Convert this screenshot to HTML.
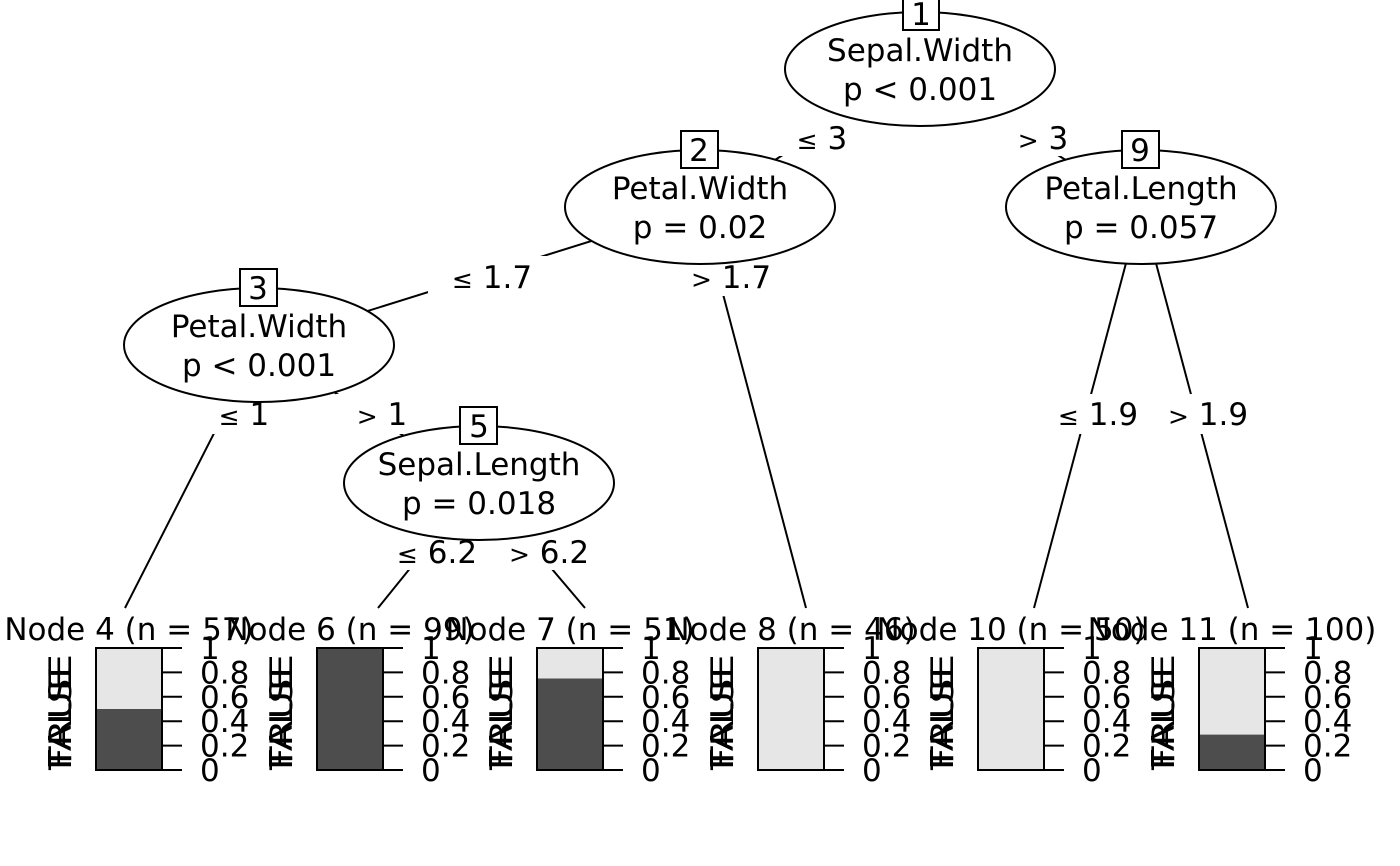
<!DOCTYPE html>
<html><head><meta charset="utf-8"><style>
html,body{margin:0;padding:0;background:#fff;}
svg{display:block;font-family:"DejaVu Sans","Liberation Sans",sans-serif;}
</style></head><body>
<svg width="1400" height="866" viewBox="0 0 1400 866" xmlns="http://www.w3.org/2000/svg">
<rect width="1400" height="866" fill="#fff"/>
<g stroke="#000" stroke-width="2" fill="none">
<line x1="920" y1="69" x2="700" y2="207"/>
<line x1="920" y1="69" x2="1141" y2="207"/>
<line x1="700" y1="207" x2="259" y2="345"/>
<line x1="700" y1="207" x2="806" y2="608"/>
<line x1="1141" y1="207" x2="1034" y2="608"/>
<line x1="1141" y1="207" x2="1248" y2="608"/>
<line x1="259" y1="345" x2="125" y2="608"/>
<line x1="259" y1="345" x2="479" y2="483"/>
<line x1="479" y1="483" x2="378" y2="608"/>
<line x1="479" y1="483" x2="585" y2="608"/>
</g>
<g font-size="31" text-anchor="middle" fill="#000">
<g fill="#fff">
<rect x="760" y="116" width="124" height="40"/>
<rect x="984" y="116" width="110" height="40"/>
<rect x="428" y="256" width="128" height="40"/>
<rect x="666" y="256" width="128" height="40"/>
<rect x="196" y="394" width="96" height="40"/>
<rect x="336" y="394" width="94" height="40"/>
<rect x="1054" y="394" width="92" height="40"/>
<rect x="1164" y="394" width="92" height="40"/>
<rect x="392" y="532" width="102" height="38"/>
<rect x="502" y="532" width="94" height="38"/>
</g>
<text x="822" y="149"><tspan font-size="25">≤</tspan> 3</text>
<text x="1043" y="149"><tspan font-size="25">&gt;</tspan> 3</text>
<text x="492" y="288"><tspan font-size="25">≤</tspan> 1.7</text>
<text x="731" y="288"><tspan font-size="25">&gt;</tspan> 1.7</text>
<text x="244" y="425"><tspan font-size="25">≤</tspan> 1</text>
<text x="382" y="425"><tspan font-size="25">&gt;</tspan> 1</text>
<text x="1098" y="425"><tspan font-size="25">≤</tspan> 1.9</text>
<text x="1208" y="425"><tspan font-size="25">&gt;</tspan> 1.9</text>
<text x="437" y="563"><tspan font-size="25">≤</tspan> 6.2</text>
<text x="549" y="563"><tspan font-size="25">&gt;</tspan> 6.2</text>

<g stroke="#000" stroke-width="2" fill="#fff">
<ellipse cx="920" cy="69" rx="135" ry="57"/>
<ellipse cx="700" cy="207" rx="135" ry="57"/>
<ellipse cx="1141" cy="207" rx="135" ry="57"/>
<ellipse cx="259" cy="345" rx="135" ry="57"/>
<ellipse cx="479" cy="483" rx="135" ry="57"/>
<rect x="903" y="-6" width="36" height="36"/>
<rect x="681" y="131" width="37" height="37"/>
<rect x="1122" y="131" width="37" height="37"/>
<rect x="240" y="269" width="37" height="37"/>
<rect x="460" y="407" width="37" height="37"/>
</g>
<text x="921" y="25">1</text>
<text x="699" y="161">2</text>
<text x="1140" y="161">9</text>
<text x="258" y="299">3</text>
<text x="479" y="437">5</text>
<text x="920" y="61">Sepal.Width</text><text x="920" y="100">p &lt; 0.001</text>
<text x="700" y="199">Petal.Width</text><text x="700" y="238">p = 0.02</text>
<text x="1141" y="199">Petal.Length</text><text x="1141" y="238">p = 0.057</text>
<text x="259" y="337">Petal.Width</text><text x="259" y="376">p &lt; 0.001</text>
<text x="479" y="475">Sepal.Length</text><text x="479" y="514">p = 0.018</text>
</g>
<g font-size="31" fill="#000" id="panels"></g>
<script>
var ns="http://www.w3.org/2000/svg",g=document.getElementById("panels");
var P=[[96,"Node 4 (n = 57)",0.5],[317,"Node 6 (n = 99)",1],[537,"Node 7 (n = 51)",0.75],[758,"Node 8 (n = 46)",0],[978,"Node 10 (n = 50)",0],[1199,"Node 11 (n = 100)",0.29]];
function el(t,a,txt){var e=document.createElementNS(ns,t);for(var k in a)e.setAttribute(k,a[k]);if(txt!=null)e.textContent=txt;g.appendChild(e);return e;}
P.forEach(function(p){var x=p[0],top=648,bot=770,h=bot-top,c=x+33;
el("text",{x:c,y:640,"text-anchor":"middle"},p[1]);
el("rect",{x:x,y:top,width:66,height:h,fill:"#e6e6e6"});
if(p[2]>0)el("rect",{x:x,y:bot-h*p[2],width:66,height:h*p[2],fill:"#4d4d4d"});
el("rect",{x:x,y:top,width:66,height:h,fill:"none",stroke:"#000","stroke-width":2});
["0","0.2","0.4","0.6","0.8","1"].forEach(function(l,i){var y=bot-h*i/5;
el("line",{x1:x+66,y1:y,x2:x+86,y2:y,stroke:"#000","stroke-width":2});
el("text",{x:x+104,y:y+11},l);});
el("text",{x:0,y:0,transform:"translate("+(x-25)+",770) rotate(-90) scale(1.25,1)"},"FALSE");
el("text",{x:0,y:0,transform:"translate("+(x-25)+",770) rotate(-90) scale(1.25,1)"},"TRUE");
});
</script>
</svg>
</body></html>
